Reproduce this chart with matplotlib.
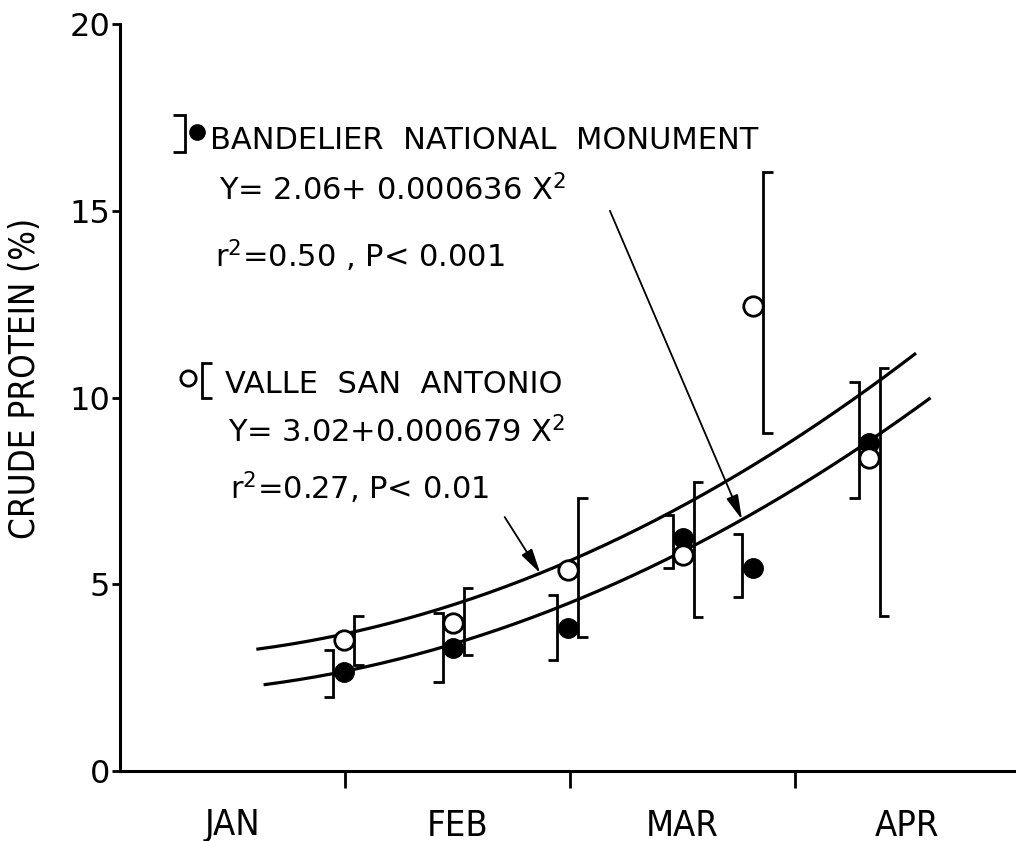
import numpy as np
import matplotlib
matplotlib.use("Agg")
import matplotlib.pyplot as plt

# sampling dates, days from 1 January
dias = [30.8, 45.9, 61.7, 77.6, 87.2, 103.2]

# Bandelier National Monument (filled)
band_media = [2.65, 3.29, 3.82, 6.23, 5.43, 8.77]
band_bajo = [1.98, 2.38, 2.97, 5.43, 4.66, 7.31]
band_alto = [3.24, 4.23, 4.71, 6.85, 6.35, 10.42]

# Valle San Antonio (open)
valle_media = [3.50, 3.96, 5.37, 5.78, 12.46, 8.37]
valle_bajo = [2.84, 3.11, 3.59, 4.12, 9.05, 4.15]
valle_alto = [4.15, 4.90, 7.31, 7.74, 16.04, 10.79]

# fitted curves Y = a + b X^2
band_a, band_b = 2.06, 0.000636
valle_a, valle_b = 3.02, 0.000679

meses = ["JAN", "FEB", "MAR", "APR"]
limites_mes = [31, 62, 93]
centros_mes = [15.5, 46.5, 77.5, 108.5]

FUENTE = ["DejaVu Sans"]
ESTRECHA = ["Liberation Sans Narrow", "DejaVu Sans"]


def curva(a, b, x):
    return a + b * np.asarray(x) ** 2


def corchete(ax, x, lo, hi, lado, ancho=1.3, **kw):
    # "]" when lado=-1 (serifs to the left), "[" when lado=+1
    xs = [x + lado * ancho, x, x, x + lado * ancho]
    ys = [lo, lo, hi, hi]
    ax.plot(xs, ys, color="black", lw=2.0, solid_joinstyle="miter",
            solid_capstyle="butt", clip_on=False, **kw)


fig = plt.figure(figsize=(10.16, 8.41), dpi=100)
ax = fig.add_axes([120 / 1016, 70 / 841, 896 / 1016, 747 / 841])
ax.set_xlim(0, 123.45)
ax.set_ylim(0, 20)

# REGRESSION CURVES
xb = np.linspace(20, 111.5, 200)
xv = np.linspace(19, 109.5, 200)
ax.plot(xb, curva(band_a, band_b, xb), color="black", lw=2.3, zorder=2)
ax.plot(xv, curva(valle_a, valle_b, xv), color="black", lw=2.3, zorder=2)

# ERROR BRACKETS
desp = 1.45
for d, lo, hi in zip(dias, band_bajo, band_alto):
    corchete(ax, d - desp, lo, hi, -1, zorder=3)
for d, lo, hi in zip(dias, valle_bajo, valle_alto):
    corchete(ax, d + desp, lo, hi, +1, zorder=3)

# MEANS
ax.plot(dias, band_media, "o", ms=14, color="black", zorder=5, clip_on=False)
ax.plot(dias, valle_media, "o", ms=14, mfc="white", mec="black", mew=2,
        zorder=6, clip_on=False)

# KEY SYMBOLS
corchete(ax, 8.96, 16.57, 17.56, -1, ancho=1.6, zorder=3)
ax.plot([10.6], [17.11], "o", ms=11, color="black", clip_on=False)
ax.plot([9.37], [10.52], "o", ms=11, mfc="white", mec="black", mew=2,
        clip_on=False)
corchete(ax, 11.3, 9.99, 10.92, +1, ancho=1.4, zorder=3)

# LABELS
tam = 22
ax.text(12.4, 16.65, "BANDELIER  NATIONAL  MONUMENT", fontsize=tam,
        family=FUENTE, va="baseline")
ax.text(13.6, 15.29, "Y= 2.06+ 0.000636 X$^{2}$", fontsize=tam,
        family=FUENTE, va="baseline")
ax.text(13.1, 13.49, "r$^{2}$=0.50 , P< 0.001", fontsize=tam,
        family=FUENTE, va="baseline")
ax.text(14.47, 10.12, "VALLE  SAN  ANTONIO", fontsize=tam,
        family=FUENTE, va="baseline")
ax.text(14.88, 8.81, "Y= 3.02+0.000679 X$^{2}$", fontsize=tam,
        family=FUENTE, va="baseline")
ax.text(15.16, 7.26, "r$^{2}$=0.27, P< 0.01", fontsize=tam,
        family=FUENTE, va="baseline")

# ARROWS TO THE CURVES
flecha = dict(arrowstyle="-|>,head_length=0.6,head_width=0.15",
              color="black", lw=1.3, mutation_scale=25, shrinkA=0, shrinkB=0)
ax.annotate("", xy=(85.7, curva(band_a, band_b, 85.7)), xytext=(67.5, 15.0),
            arrowprops=flecha)
ax.annotate("", xy=(57.9, curva(valle_a, valle_b, 57.9)), xytext=(53.0, 6.8),
            arrowprops=flecha)

# AXES
for lado in ["top", "right"]:
    ax.spines[lado].set_visible(False)
for lado in ["left", "bottom"]:
    ax.spines[lado].set_linewidth(2.2)

ax.set_yticks([0, 5, 10, 15, 20])
ax.set_yticklabels(["0", "5", "10", "15", "20"], fontsize=23, family=FUENTE)
ax.tick_params(axis="y", direction="out", length=6, width=2, pad=1)

ax.set_xticks(limites_mes)
ax.set_xticklabels([])
ax.set_xticks(centros_mes, minor=True)
ax.set_xticklabels(meses, minor=True, fontsize=26, family=ESTRECHA,
                   fontstretch="condensed")
ax.tick_params(axis="x", which="major", direction="out", length=12, width=2)
ax.tick_params(axis="x", which="minor", length=0, pad=27)

ax.set_ylabel("CRUDE PROTEIN (%)", fontsize=25, family=ESTRECHA,
              fontstretch="condensed")
ax.yaxis.set_label_coords(-0.087, 0.526)

fig.savefig("out.png", dpi=100)
